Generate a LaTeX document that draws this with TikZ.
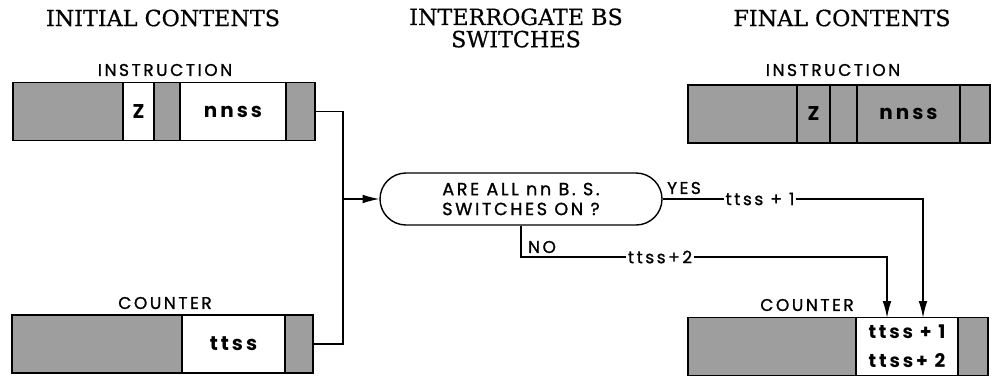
\documentclass[tikz,border=0pt]{standalone}
\usepackage{fontspec}
\newfontfamily\labfont[LetterSpace=15, FakeBold=1.2]{Poppins}
\newfontfamily\cellfont[LetterSpace=15]{Poppins}
\newfontfamily\ttlfont[FakeBold=0.6]{DejaVu Serif}
\usetikzlibrary{positioning,arrows.meta,shapes.misc,calc}
\definecolor{screen}{gray}{0.62}

\begin{document}
\begin{tikzpicture}[x=0.3mm,y=-0.3mm,
   cell/.style={draw, line width=1.2pt, inner sep=0pt, outer sep=0pt, minimum height=17.3mm,
                font=\cellfont\bfseries\fontsize{17}{18}\selectfont},
   shd/.style={cell, fill=screen},
   lbl/.style={font=\labfont\fontsize{14.5}{15}\selectfont},
   ttl/.style={font=\ttlfont\fontsize{19}{19}\selectfont, align=center},
   dec/.style={draw, line width=1.2pt, rounded rectangle, minimum width=84.6mm, minimum height=15.6mm,
               align=center, inner sep=0pt, font=\labfont\fontsize{15}{17}\selectfont},
   line/.style={line width=1pt},
   arr/.style={line, -{Latex[length=5mm, width=2.6mm]}}]
  \useasboundingbox (0,0) rectangle (992,377);
  % titles
  \node[ttl] (tinit) at (163,18) {INITIAL CONTENTS};
  \node[ttl] (tint) at (516,28) {INTERROGATE BS\\SWITCHES};
  \node[ttl] (tfin) at (842,18) {FINAL CONTENTS};
  % initial contents
  \node[lbl] (ilab) at (165,70) {INSTRUCTION};
  \node[shd, minimum width=33mm] (li1) at (68,111.5) {};
  \node[cell, minimum width=9.3mm, right=0pt of li1] (li2) {Z};
  \node[shd, minimum width=7.8mm, right=0pt of li2] (li3) {};
  \node[cell, minimum width=31.8mm, right=0pt of li3] (li4) {nnss};
  \node[shd, minimum width=8.7mm, right=0pt of li4] (li5) {};
  \node[lbl] (clab) at (165,303) {COUNTER};
  \node[shd, minimum width=51mm] (lc1) at (97,344) {};
  \node[cell, minimum width=30.9mm, right=0pt of lc1] (lc2) {ttss};
  \node[shd, minimum width=8.4mm, right=0pt of lc2] (lc3) {};
  % test
  \node[dec] (ask) at (521,199) {ARE ALL nn B. S.\\SWITCHES ON ?};
  \coordinate (join) at (343,199);
  \draw[line] (li5.east) -| (join);
  \draw[line] (lc3.east) -| (join);
  \draw[arr] (join) -- (ask.west);
  % final contents
  \node[lbl] (rilab) at (833,70) {INSTRUCTION};
  \node[shd, minimum width=32.7mm] (ri1) at (742.5,114) {};
  \node[shd, minimum width=9.9mm, right=0pt of ri1] (ri2) {Z};
  \node[shd, minimum width=8.1mm, right=0pt of ri2] (ri3) {};
  \node[shd, minimum width=30.9mm, right=0pt of ri3] (ri4) {nnss};
  \node[shd, minimum width=9mm, right=0pt of ri4] (ri5) {};
  \node[lbl] (rclab) at (807,305) {COUNTER};
  \node[shd, minimum width=50.4mm] (rc1) at (772,346.5) {};
  \node[cell, minimum width=30.6mm, right=0pt of rc1, align=center,
        font=\cellfont\bfseries\fontsize{16}{25}\selectfont] (rc2) {ttss + 1\\ttss+ 2};
  \node[shd, minimum width=9mm, right=0pt of rc2] (rc3) {};
  % branches
  \node[lbl] (yes) at (684,188) {YES};
  \node[lbl, fill=white, inner sep=1pt] (p1) at (760,199) {ttss + 1};
  \coordinate (c1) at (923,199);
  \draw[line] (ask.east) -- (p1.west);
  \draw[arr] (p1.east) -- (c1) -- (c1 |- rc2.north);
  \node[lbl] (no) at (542,247) {NO};
  \node[lbl, fill=white, inner sep=1pt] (p2) at (660,257) {ttss+2};
  \coordinate (c2) at (887,257);
  \draw[line] (ask.south) |- (p2.west);
  \draw[arr] (p2.east) -- (c2) -- (c2 |- rc2.north);
\end{tikzpicture}
\end{document}
